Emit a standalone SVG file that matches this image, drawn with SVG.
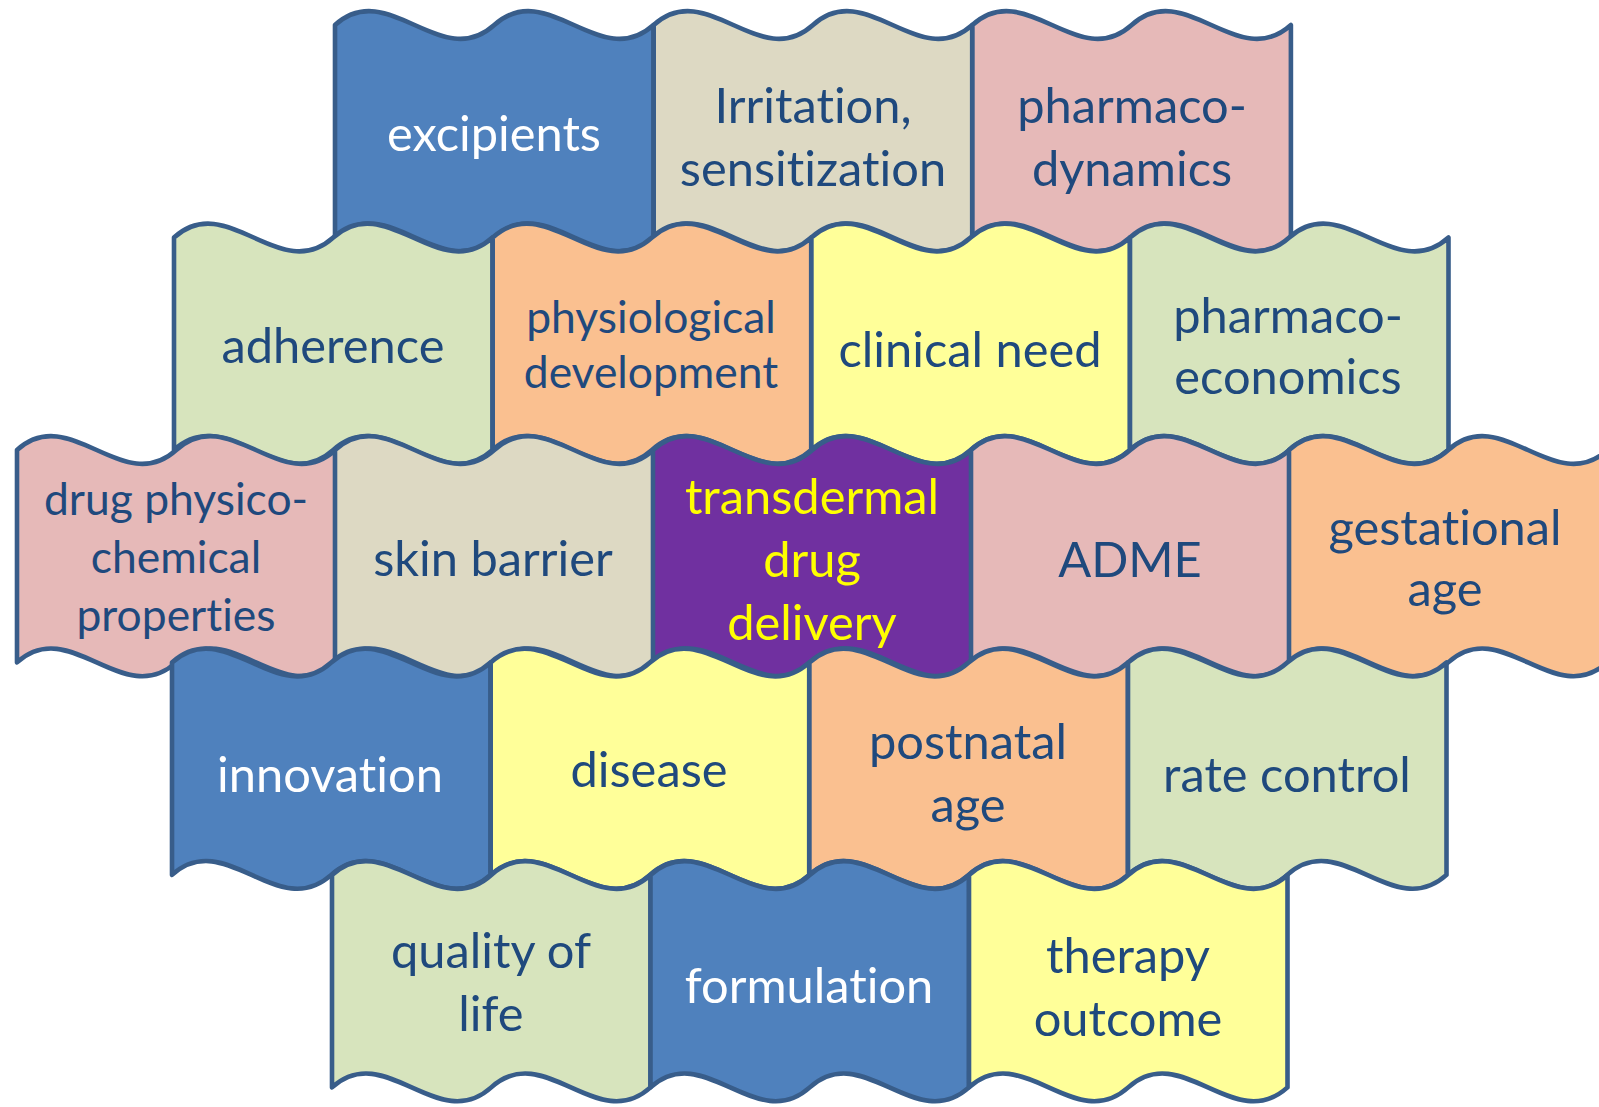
<svg xmlns="http://www.w3.org/2000/svg" xmlns:xlink="http://www.w3.org/1999/xlink" width="1599" height="1107" viewBox="0 0 1599 1107">
<defs>
<style>
.w{stroke:#385D8A;stroke-width:4.6;stroke-linejoin:round}
.blue{fill:#4F81BD}.tan{fill:#DDD9C3}.pink{fill:#E6B9B8}.green{fill:#D7E4BD}.orange{fill:#FAC090}.yellow{fill:#FFFF99}.purple{fill:#7030A0}
text{font-family:Lato,"Liberation Sans",sans-serif;font-size:48.8px;text-anchor:middle;fill:#1F497D;font-variant-ligatures:none;font-feature-settings:"liga" 0,"clig" 0}
.wt{fill:#FFFFFF}.yt{fill:#FFFF00}.sm{font-size:44.4px}
</style>
<path id="wave" d="M0,0 C53.08,-48 106.17,48 159.25,0 C212.33,-48 265.42,48 318.5,0 L318.5,212.4 C265.42,260.4 212.33,164.4 159.25,212.4 C106.17,260.4 53.08,164.4 0,212.4 Z"/>
</defs>
<rect width="1599" height="1107" fill="#FFFFFF"/>
<!-- Row 1 -->
<g id="excipients"><use href="#wave" x="335" y="25" class="w blue"/><text x="494" y="150.5" class="wt">excipients</text></g>
<g id="irritation"><use href="#wave" x="653.7" y="25" class="w tan"/><text x="813" y="122.5">Irritation,</text><text x="813" y="185.5">sensitization</text></g>
<g id="pharmacodynamics"><use href="#wave" x="972.4" y="25" class="w pink"/><text x="1132" y="122.5">pharmaco-</text><text x="1132" y="185.5">dynamics</text></g>
<!-- Row 2 -->
<g id="adherence"><use href="#wave" x="174" y="237.5" class="w green"/><text x="333" y="363">adherence</text></g>
<g id="physiological"><use href="#wave" x="492.7" y="237.5" class="w orange"/><text x="651" y="332.5" class="sm">physiological</text><text x="651" y="387.5" class="sm">development</text></g>
<g id="clinical"><use href="#wave" x="811.4" y="237.5" class="w yellow"/><text x="970" y="366.5">clinical need</text></g>
<g id="pharmacoeconomics"><use href="#wave" x="1130" y="237.5" class="w green"/><text x="1288" y="332.5">pharmaco-</text><text x="1288" y="393.5">economics</text></g>
<!-- Row 3 -->
<g id="drug-physico"><use href="#wave" x="17" y="450" class="w pink"/><text x="176" y="514.5" class="sm">drug physico-</text><text x="176" y="572.5" class="sm">chemical</text><text x="176" y="630.5" class="sm">properties</text></g>
<g id="skin-barrier"><use href="#wave" x="335" y="450" class="w tan"/><text x="493" y="575.5">skin barrier</text></g>
<g id="transdermal"><use href="#wave" x="653" y="450" class="w purple"/><text x="812" y="514" class="yt">transdermal</text><text x="812" y="577" class="yt">drug</text><text x="812" y="640" class="yt">delivery</text></g>
<g id="adme"><use href="#wave" x="971" y="450" class="w pink"/><text x="1130" y="577">ADME</text></g>
<g id="gestational"><use href="#wave" x="1289" y="450" class="w orange"/><text x="1445" y="544.5">gestational</text><text x="1445" y="605.5">age</text></g>
<!-- Row 4 -->
<g id="innovation"><use href="#wave" x="172" y="662.5" class="w blue"/><text x="330" y="791.5" class="wt">innovation</text></g>
<g id="disease"><use href="#wave" x="490.7" y="662.5" class="w yellow"/><text x="649" y="786.5">disease</text></g>
<g id="postnatal"><use href="#wave" x="809.4" y="662.5" class="w orange"/><text x="968" y="758.5">postnatal</text><text x="968" y="821.5">age</text></g>
<g id="rate-control"><use href="#wave" x="1128" y="662.5" class="w green"/><text x="1287" y="791.5">rate control</text></g>
<!-- Row 5 -->
<g id="quality"><use href="#wave" x="332" y="875" class="w green"/><text x="491" y="967.5">quality of</text><text x="491" y="1030.5">life</text></g>
<g id="formulation"><use href="#wave" x="650.5" y="875" class="w blue"/><text x="809" y="1002.5" class="wt">formulation</text></g>
<g id="therapy"><use href="#wave" x="969" y="875" class="w yellow"/><text x="1128" y="972.5">therapy</text><text x="1128" y="1035.5">outcome</text></g>
</svg>
